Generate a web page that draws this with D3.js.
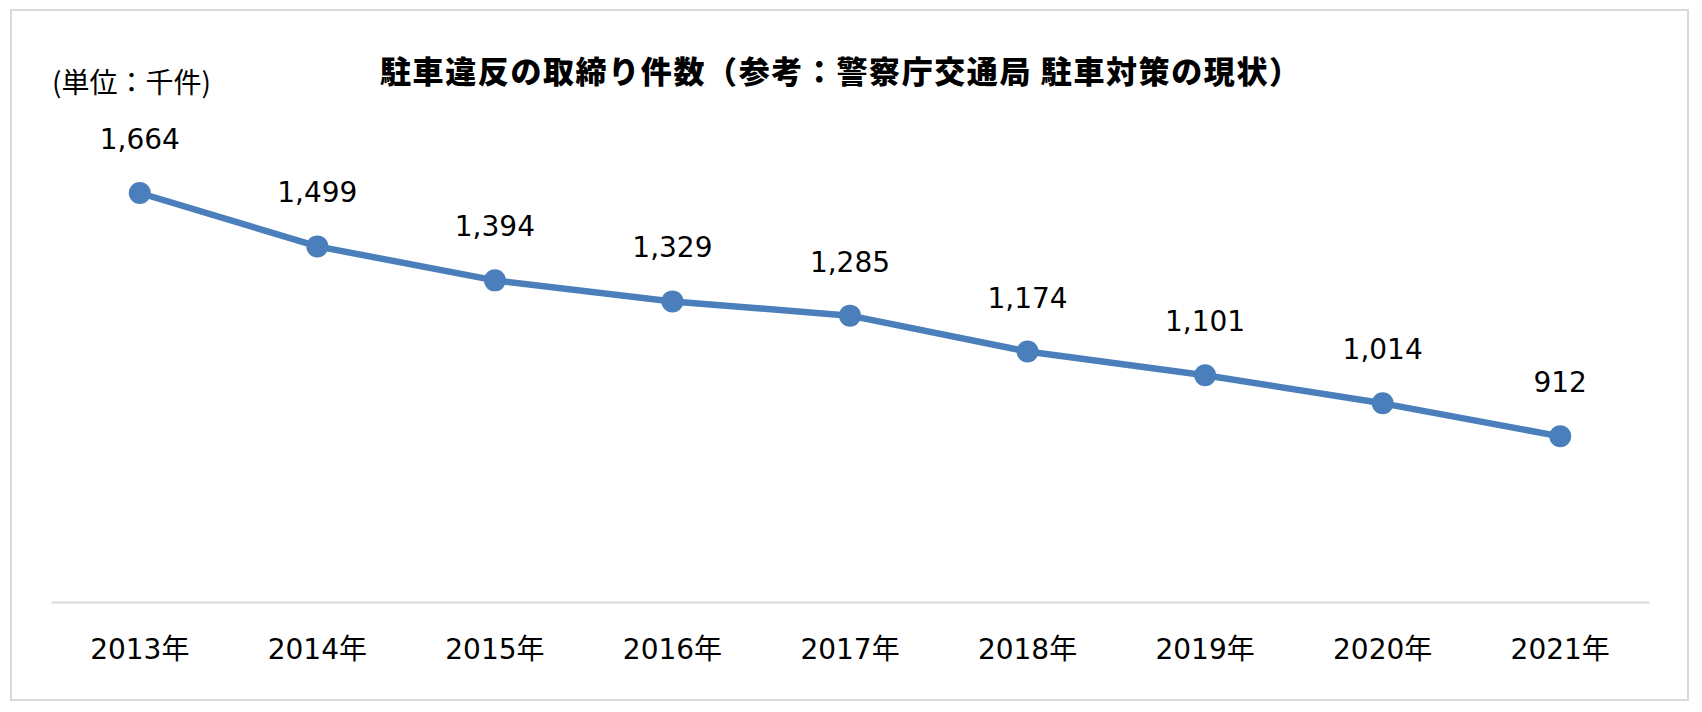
<!DOCTYPE html>
<html>
  <head>
  <meta charset="utf-8">
  <title>駐車違反の取締り件数</title>
  <script src="https://d3js.org/d3.v7.min.js"></script>
  <style>
    body { margin: 0; background: white; }
    .title {
      font-family: "Noto Sans CJK JP", sans-serif;
      font-size: 31px;
      font-weight: 900;
      fill: black;
    }
    .unit {
      font-family: "Noto Sans CJK JP", sans-serif;
      font-size: 28px;
      fill: black;
    }
    .label, .tick text {
      font-family: "DejaVu Sans", "Noto Sans CJK JP", sans-serif;
      font-size: 28px;
      fill: black;
    }
  </style>
  </head>
  <body>
    <script>
      let width = 1702, height = 712;
      // data (thousands of cases)
      let years = ['2013年', '2014年', '2015年', '2016年', '2017年', '2018年', '2019年', '2020年', '2021年'];
      let counts = [1664, 1499, 1394, 1329, 1285, 1174, 1101, 1014, 912];
      let labels = ['1,664', '1,499', '1,394', '1,329', '1,285', '1,174', '1,101', '1,014', '912'];

      let color = '#4a7fbb';

      let svg = d3.select('body').append('svg').attr('width', width).attr('height', height);

      // frame around the chart
      svg.append('rect').attr('x', 11).attr('y', 10).attr('width', 1677).attr('height', 690)
         .attr('fill', 'white').attr('stroke', '#d9d9d9').attr('stroke-width', 2);

      // scales
      let x = d3.scaleBand().domain(years).range([51, 1649]);
      let y = d3.scaleLinear().domain([400, 1800]).range([602, 149]);

      // x axis: just the baseline and the year labels
      let xAxis = svg.append('g').attr('transform', 'translate(0,602)')
                     .call(d3.axisBottom(x).tickSize(0).tickSizeOuter(0));
      xAxis.select('.domain').attr('stroke', '#d9d9d9').attr('stroke-width', 2);
      xAxis.selectAll('.tick text').attr('y', 57).attr('dy', null);

      // line
      let data = years.map((d, i) => ({year: d, value: counts[i], label: labels[i]}));
      let line = d3.line().x(d => x(d.year) + x.bandwidth() / 2).y(d => y(d.value));
      svg.append('path').datum(data).attr('d', line)
         .attr('fill', 'none').attr('stroke', color).attr('stroke-width', 6.5).attr('stroke-linejoin', 'round');

      // markers
      svg.append('g').selectAll('circle').data(data).enter().append('circle')
         .attr('cx', d => x(d.year) + x.bandwidth() / 2)
         .attr('cy', d => y(d.value))
         .attr('r', 11)
         .attr('fill', color);

      // value labels above the points
      svg.append('g').selectAll('text').data(data).enter().append('text')
         .classed('label', true)
         .attr('x', d => x(d.year) + x.bandwidth() / 2)
         .attr('y', d => y(d.value) - 44)
         .attr('text-anchor', 'middle')
         .text(d => d.label);

      // title and unit
      svg.append('text').classed('title', true)
         .attr('x', 380).attr('y', 83)
         .attr('textLength', 920).attr('lengthAdjust', 'spacing')
         .text('駐車違反の取締り件数（参考：警察庁交通局 駐車対策の現状）');
      svg.append('text').classed('unit', true)
         .attr('x', 52).attr('y', 93)
         .text('(単位：千件)');
    </script>
  </body>
</html>
